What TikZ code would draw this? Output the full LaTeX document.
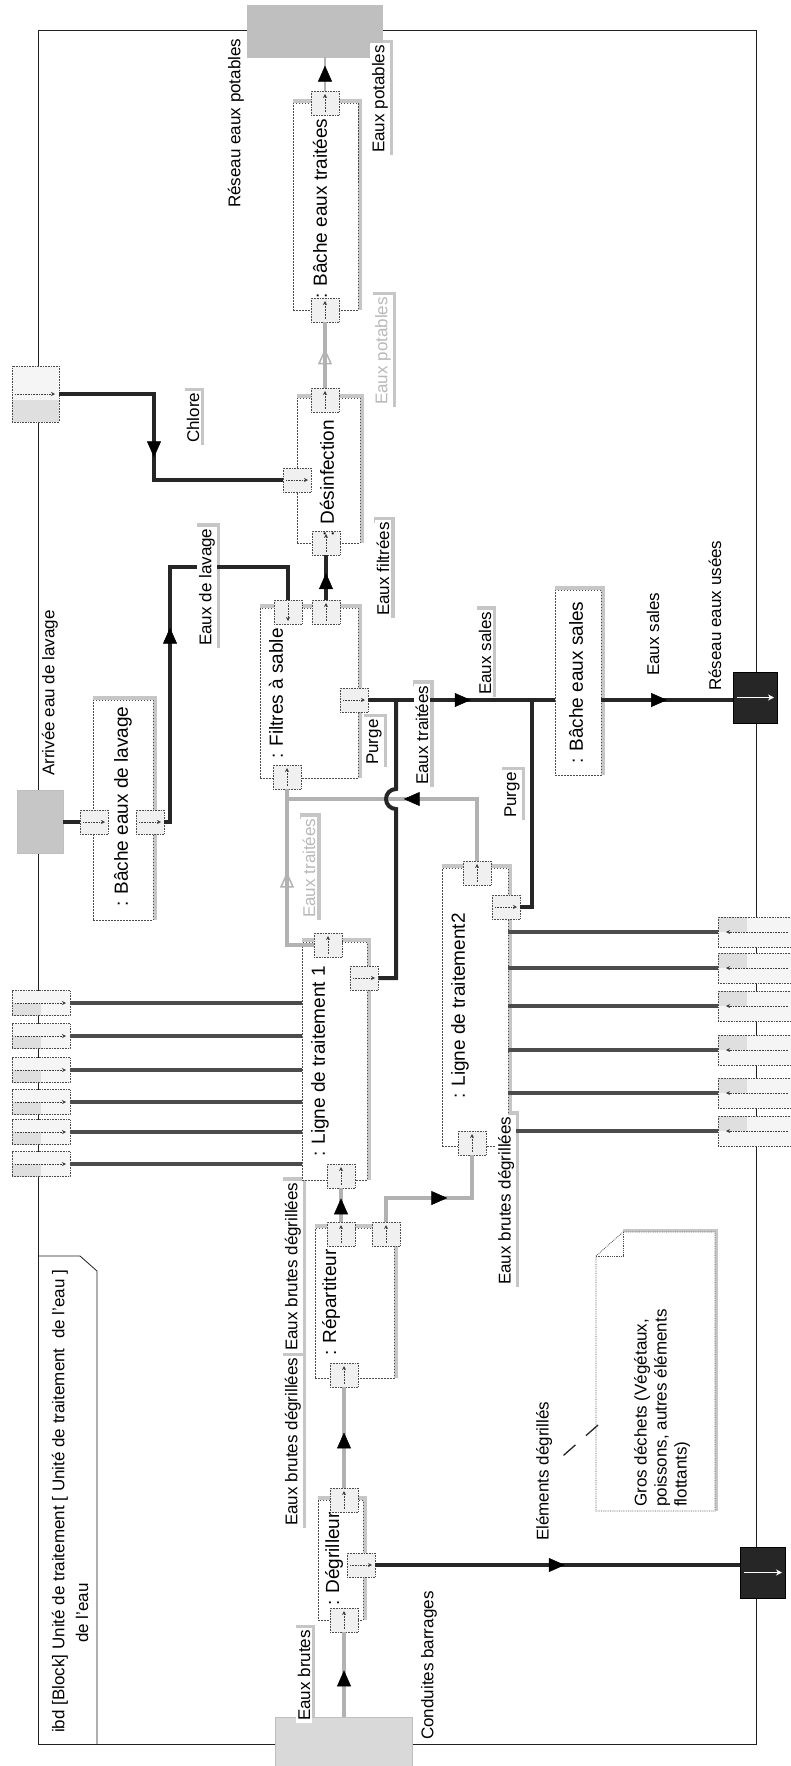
\documentclass[tikz,border=0pt]{standalone}
\usepackage{fontspec}
\setmainfont{Liberation Sans}
\usetikzlibrary{arrows.meta,decorations.markings,backgrounds}
\tikzset{
  lab/.style={rotate=90, anchor=west, inner sep=2pt, fill=white, font=\fontsize{17}{20}\selectfont},
  glab/.style={lab, text=gray!55},
  pname/.style={rotate=90, anchor=west, inner sep=1pt, font=\fontsize{19}{22}\selectfont},
  part/.style={draw=gray!60!black, dash pattern=on 1.5pt off 1.5pt, line width=0.8pt, inner sep=0pt, fill=white},
  port/.style={draw=gray!60!black, densely dotted, line width=0.6pt, fill=gray!12, minimum width=28pt, minimum height=24pt, inner sep=0pt},
  inarrow/.style={gray!50!black, densely dotted, line width=0.6pt, -{Stealth[length=4pt,width=4pt]}},
  pu/.style={port, path picture={\draw[inarrow] ([yshift=3pt]path picture bounding box.south) -- ([yshift=-3pt]path picture bounding box.north);}},
  pd/.style={port, path picture={\draw[inarrow] ([yshift=-3pt]path picture bounding box.north) -- ([yshift=3pt]path picture bounding box.south);}},
  pr/.style={port, path picture={\draw[inarrow] ([xshift=3pt]path picture bounding box.west) -- ([xshift=-3pt]path picture bounding box.east);}},
  bport/.style={draw=gray!60!black, densely dotted, line width=0.6pt, fill=gray!8, inner sep=0pt},
  leftbox/.style={bport, path picture={
      \fill[gray!25] (path picture bounding box.south west) rectangle (path picture bounding box.center);
      \draw[inarrow] ([xshift=3pt]path picture bounding box.west) -- ([xshift=-4pt]path picture bounding box.east);}},
  rightbox/.style={bport, path picture={
      \fill[gray!25] (path picture bounding box.north west) rectangle ([xshift=-8pt]path picture bounding box.center);
      \draw[inarrow] ([xshift=-3pt]path picture bounding box.east) -- ([xshift=8pt]path picture bounding box.west);}},
  chlbox/.style={bport, path picture={
      \fill[gray!25] (path picture bounding box.south west) rectangle ([yshift=-6pt]path picture bounding box.east);
      \draw[inarrow] ([xshift=3pt]path picture bounding box.west) -- ([xshift=-4pt]path picture bounding box.east);}},
  sink/.style={fill=black!85, draw=black, inner sep=0pt, path picture={\draw[white, line width=1.2pt, -{Stealth[length=6pt,width=6pt]}] ([xshift=4pt]path picture bounding box.west) -- ([xshift=-3pt]path picture bounding box.east);}},
  src/.style={draw=gray!50, inner sep=0pt},
  gflow/.style={draw=gray!60, line width=4pt},
  bflow/.style={draw=black!85, line width=4pt},
  dflow/.style={draw=black!70, line width=4pt},
  am/.style={postaction={decorate, decoration={markings, mark=at position #1 with {\arrow{Triangle[length=16pt,width=14pt,color=black,fill=black,line width=0.5pt]}}}}},
  amo/.style={postaction={decorate, decoration={markings, mark=at position #1 with {\arrow{Triangle[open,length=16pt,width=14pt,color=gray!60,line width=1.5pt]}}}}},
  strip/.style={draw=gray!45, line width=6pt},
  pstrip/.style={draw=gray!45, line width=3.5pt},
}
\begin{document}
\begin{tikzpicture}[x=1pt,y=-1pt]
\useasboundingbox (0,0) rectangle (791,1766);
% frame and header
\node[draw=gray!25!black, line width=0.8pt, minimum width=718pt, minimum height=1714pt, inner sep=0pt] (frame) at (397,887) {};
\draw[gray!25!black, line width=0.8pt] (38,1256) -- (80,1256) -- (97,1271) -- (97,1744);
\node[rotate=90, anchor=west, inner sep=0pt, font=\fontsize{17}{20}\selectfont] (hd1) at (60,1733) {ibd [Block] Unité de traitement [ Unité de traitement \ de l'eau ]};
\node[rotate=90, anchor=west, inner sep=0pt, font=\fontsize{17}{20}\selectfont] (hd2) at (82,1643) {de l'eau};

% parts
\node[part, minimum width=65pt, minimum height=207pt] (bt) at (325.5,206.5) {};
\node[part, minimum width=63pt, minimum height=145pt] (ds) at (328.5,470.5) {};
\node[part, minimum width=98pt, minimum height=170pt] (fs) at (309,693) {};
\node[part, minimum width=60pt, minimum height=220pt] (bl) at (123,810) {};
\node[part, minimum width=46pt, minimum height=185pt] (bs) at (578,682.5) {};
\node[part, minimum width=65pt, minimum height=238pt] (lig1) at (334.5,1061) {};
\node[part, minimum width=66pt, minimum height=278pt] (lig2) at (475,1007) {};
\node[part, minimum width=79pt, minimum height=150pt] (rp) at (354.5,1303) {};
\node[part, minimum width=45pt, minimum height=120pt] (dg) at (340.5,1560) {};

% note
\coordinate (nA) at (596,1256);
\coordinate (nB) at (623,1232);
\coordinate (nC) at (715,1232);
\coordinate (nD) at (715,1511);
\coordinate (nE) at (596,1511);
\draw[gray!60!black, densely dotted, line width=0.8pt, fill=white] (nA) -- (nB) -- (nC) -- (nD) -- (nE) -- cycle;
\draw[gray!60!black, densely dotted, line width=0.8pt] (nB) -- (623,1256) -- (nA);
\node[rotate=90, anchor=north west, align=left, inner sep=0pt, font=\fontsize{17}{20}\selectfont] (note) at (634,1507) {Gros déchets (Végétaux,\\poissons, autres éléments\\flottants)};

% boundary blocks
\node[src, fill=gray!50, minimum width=135pt, minimum height=52pt] (resP) at (314.5,31) {};
\node[src, fill=gray!30, minimum width=137pt, minimum height=49pt] (cond) at (343.5,1741.5) {};
\node[src, fill=gray!45, minimum width=46pt, minimum height=63pt] (arr) at (40,821.5) {};
\node[chlbox, minimum width=47pt, minimum height=56pt] (chl) at (35.5,394) {};
\node[sink, minimum width=45pt, minimum height=51pt] (elem) at (762.5,1572.5) {};
\node[sink, minimum width=44pt, minimum height=51pt] (resU) at (755,697.5) {};

% ports
\node[pu] (t1) at (325,103) {};
\node[pu] (t2) at (325,310) {};
\node[pu] (d1) at (325,400) {};
\node[pr] (d2) at (297,480) {};
\node[pu] (d3) at (326,543) {};
\node[pd] (fa) at (288,612) {};
\node[pu] (fb) at (326,612) {};
\node[pr] (fc) at (354,700) {};
\node[pu] (fd) at (287,777) {};
\node[pr] (l1) at (94,822) {};
\node[pr] (l2) at (150,822) {};
\node[pu] (g1) at (328,945) {};
\node[pr] (g2) at (364,978) {};
\node[pu] (g3) at (341,1176) {};
\node[pu] (h1) at (477,873) {};
\node[pr] (h2) at (506,907) {};
\node[pu] (h3) at (472,1143) {};
\node[pu] (r1) at (344,1375) {};
\node[pu] (r2) at (341,1234) {};
\node[pu] (r3) at (386,1234) {};
\node[pu] (dg1) at (344,1620) {};
\node[pu] (dg2) at (344,1500) {};
\node[pr] (dg3) at (361,1565) {};

% boundary ports of the two lines
\foreach \i/\y in {1/1003,2/1036,3/1070,4/1102,5/1132,6/1164} {
  \node[leftbox, minimum width=58pt, minimum height=25pt] (bL\i) at (41,\y) {};
  \draw[dflow] (bL\i.east) -- (bL\i.east -| lig1.west);
}
\foreach \i/\y in {1/932,2/968,3/1006,4/1050,5/1093,6/1131} {
  \node[rightbox, minimum width=73pt, minimum height=30pt] (bR\i) at (754.5,\y) {};
  \draw[dflow] (bR\i.west) -- (bR\i.west -| lig2.east);
}

% connectors
\coordinate (c4) at (472,1198);
\coordinate (jn) at (287,799);
\coordinate (c9) at (170,567);
\coordinate (c10) at (154,480);
\coordinate (hopA) at (396,809);
\coordinate (j14) at (396,700);
\coordinate (j15) at (532,700);
\coordinate (nt) at (598,1425);
\coordinate (ne) at (556,1462);

\draw[gflow, am=0.55] (cond.north -| dg1) -- (dg1.south);
\draw[gflow, am=0.55] (dg2.north) -- (r1.south);
\draw[gflow, am=0.7] (r2.north) -- (g3.south);
\draw[gflow, am=85pt] (r3.north) |- (c4) -- (h3.south);
\draw[bflow, am=0.52] (dg3.east) -- (dg3.east -| elem.west);
\draw[gflow, amo=100pt] (g1.west) -| (fd.south);
\draw[gflow, am=135pt] (h1.north) |- (jn);
\draw[bflow, am=0.6] (fb.north) -- (d3.south);
\draw[bflow] (arr.east |- l1) -- (l1.west);
\draw[bflow, am=200pt] (l2.east) -| (c9) -| (fa.north);
\draw[bflow, am=158pt] (chl.east) -| (c10) -- (d2.west);
\draw[gflow, amo=0.6] (d1.north) -- (t2.south);
\draw[draw=gray!60, line width=1.5pt, am=0.75] (t1.north) -- (resP.south -| t1);
\draw[bflow, am=0.55] (fc.east) -- (fc.east -| bs.west);
\draw[bflow] (g2.east) -| (hopA) arc[start angle=270, end angle=90, radius=10pt] -- (j14);
\draw[bflow] (h2.east) -| (j15);
\draw[bflow, am=0.5] (bs.east |- fc) -- (resU.west |- fc);
\draw[black!85, line width=1.3pt, dash pattern=on 16pt off 14pt] (nt) -- (ne);

% part names
\node[pname] (nBT) at (320,300) {: Bâche eaux traitées};
\node[pname] (nDS) at (327,538) {: Désinfection};
\node[pname] (nBL) at (123,908) {: Bâche eaux de lavage};
\node[pname] (nFS) at (276,760) {: Filtres à sable};
\node[pname] (nBS) at (576,765) {: Bâche eaux sales};
\node[pname] (nL1) at (320,1158) {: Ligne de traitement 1};
\node[pname] (nL2) at (460,1100) {: Ligne de traitement2};
\node[pname] (nRP) at (331,1357) {: Répartiteur};
\node[pname] (nDG) at (334,1607) {: Dégrilleur};

% labels
\node[lab] (lbRP) at (236,210) {Réseau eaux potables};
\node[lab] (lbEP1) at (380,155) {Eaux potables};
\node[glab] (lbEP2) at (383,407) {Eaux potables};
\node[lab] (lbCh) at (193,445) {Chlore};
\node[lab] (lbEF) at (383,618) {Eaux filtrées};
\node[lab] (lbEL) at (207,648) {Eaux de lavage};
\node[lab] (lbAr) at (50,778) {Arrivée eau de lavage};
\node[lab] (lbPu1) at (374,767) {Purge};
\node[glab] (lbET1) at (309,920) {Eaux traitées};
\node[lab] (lbET2) at (422,787) {Eaux traitées};
\node[lab] (lbES1) at (485,697) {Eaux sales};
\node[lab] (lbPu2) at (512,820) {Purge};
\node[lab] (lbES2) at (653,678) {Eaux sales};
\node[lab] (lbRU) at (715,693) {Réseau eaux usées};
\node[lab] (lbEBD3) at (506,1287) {Eaux brutes dégrillées};
\node[lab] (lbEBD1) at (293,1528) {Eaux brutes dégrillées};
\node[lab] (lbEBD2) at (293,1353) {Eaux brutes dégrillées};
\node[lab] (lbEB) at (304,1723) {Eaux brutes};
\node[lab] (lbCB) at (429,1742) {Conduites barrages};
\node[lab] (lbED) at (544,1543) {Eléments dégrillés};

% shadows
\begin{scope}[on background layer]
  \foreach \n in {lbEP1,lbEP2,lbCh,lbEF,lbEL,lbPu1,lbET1,lbET2,lbES1,lbPu2,lbEBD1,lbEBD2,lbEBD3,lbEB} {
    \draw[strip] (\n.south west) -- (\n.south east) -- (\n.north east);
  }
  \foreach \n in {bt,ds,fs,bl,bs,lig1,lig2,rp,dg} {
    \draw[pstrip] ([xshift=1.5pt]\n.south east) -- ([xshift=1.5pt,yshift=1.5pt]\n.north east) -- ([yshift=1.5pt]\n.north west);
  }
  \draw[pstrip] ([xshift=1.5pt]nD) -- ([xshift=1.5pt,yshift=1.5pt]nC) -- ([yshift=1.5pt]nB);
\end{scope}
\end{tikzpicture}
\end{document}
